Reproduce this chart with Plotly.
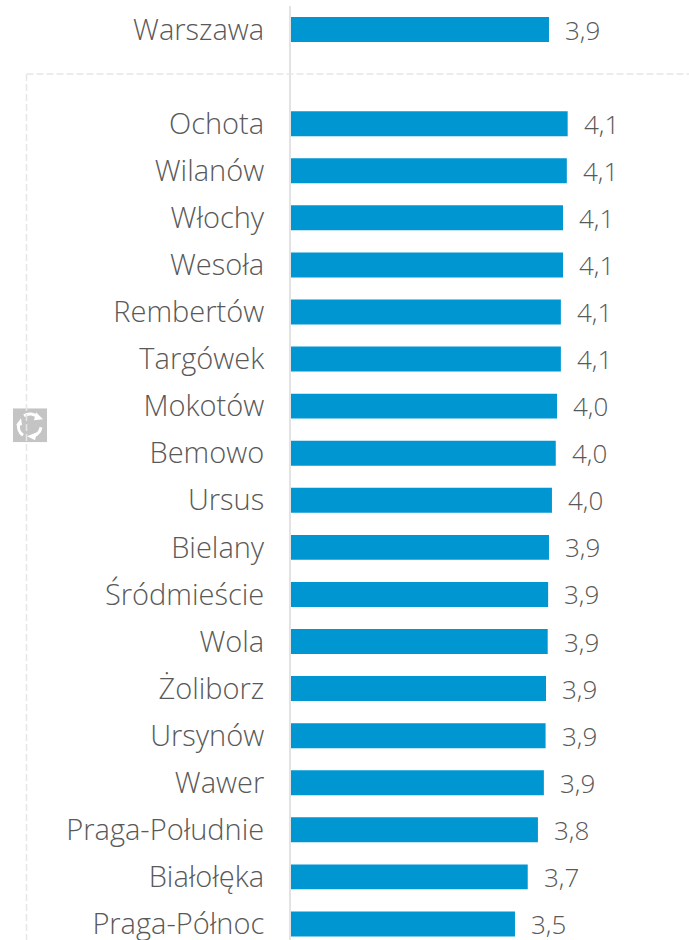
import base64
import plotly.graph_objects as go

districts = ["Warszawa", " ", "Ochota", "Wilanów", "Włochy", "Wesoła", "Rembertów", "Targówek",
             "Mokotów", "Bemowo", "Ursus", "Bielany", "Śródmieście", "Wola", "Żoliborz",
             "Ursynów", "Wawer", "Praga-Południe", "Białołęka", "Praga-Północ"]
values = [3.92, None, 4.14, 4.13, 4.085, 4.085, 4.06, 4.06, 4.015, 4.00, 3.955,
          3.92, 3.91, 3.905, 3.885, 3.88, 3.86, 3.79, 3.67, 3.52]

W, H = 689, 940
L, T = 291, 5.5
SLOT = 47.1
PX_PER_UNIT = 85
X_MIN = 0.885
GREY = "#595959"
FONT = "Open Sans"
WEIGHT = 300

fig = go.Figure(go.Bar(x=values, y=districts, orientation="h",
                       marker=dict(color="#0096D1", line=dict(width=0)), hoverinfo="skip"))

for d, v in zip(districts, values):
    if v is None:
        continue
    fig.add_annotation(x=v, y=d, xref="x", yref="y", text=f"{v:.1f}".replace(".", ","),
                       showarrow=False, xanchor="left", xshift=14, yshift=0,
                       font=dict(family=FONT, size=26, color=GREY, weight=WEIGHT))

px = lambda x: (x - L) / (W - L)
py = lambda y: 1 - (y - T) / (H - T)
dash = dict(color="#E6E6E6", width=1.5, dash="7px,3px")
fig.add_shape(type="line", xref="paper", yref="paper", x0=px(26.5), x1=px(689), y0=py(73.5), y1=py(73.5), line=dash)
fig.add_shape(type="line", xref="paper", yref="paper", x0=px(26.5), x1=px(26.5), y0=py(73.5), y1=py(940), line=dash)

svg = """<svg xmlns='http://www.w3.org/2000/svg' width='34' height='34' viewBox='0 0 34 34'>
<rect width='34' height='34' fill='#C4C4C4'/>
<g fill='none' stroke='white' stroke-width='3'>
<path d='M11 7.5 A11 11 0 0 1 25 9'/><path d='M28 19 A11 11 0 0 1 21 27.5'/><path d='M10 27 A11 11 0 0 1 6 15'/></g>
<g fill='white'><path d='M23 4 L30 11 L21 12 Z'/><path d='M24 24 L22 32 L14 28 Z'/><path d='M3 17 L9 17 L8 10 Z'/></g>
</svg>"""
fig.add_layout_image(source="data:image/svg+xml;base64," + base64.b64encode(svg.encode()).decode(),
                     xref="paper", yref="paper", x=px(13), y=py(408), sizex=34 / (W - L), sizey=34 / (H - T),
                     xanchor="left", yanchor="top", sizing="stretch", layer="above")

fig.update_layout(
    width=W, height=H, autosize=False, showlegend=False, bargap=0.47,
    paper_bgcolor="white", plot_bgcolor="white",
    margin=dict(l=L, r=0, t=T, b=0, pad=0),
    xaxis=dict(visible=False, range=[X_MIN, X_MIN + (W - L) / PX_PER_UNIT]),
    yaxis=dict(type="category", categoryorder="array", categoryarray=districts,
               range=[-0.5 + (H - T) / SLOT, -0.5], showgrid=False, zeroline=False,
               showline=True, linecolor="#E3E3E3", linewidth=2, ticks="", ticklabelstandoff=19,
               tickfont=dict(family=FONT, size=29, color=GREY, weight=WEIGHT), automargin=False),
)
fig.write_html("out.html", config=dict(displayModeBar=False),
               post_script="document.documentElement.style.overflow='hidden';document.body.style.margin='0';")
